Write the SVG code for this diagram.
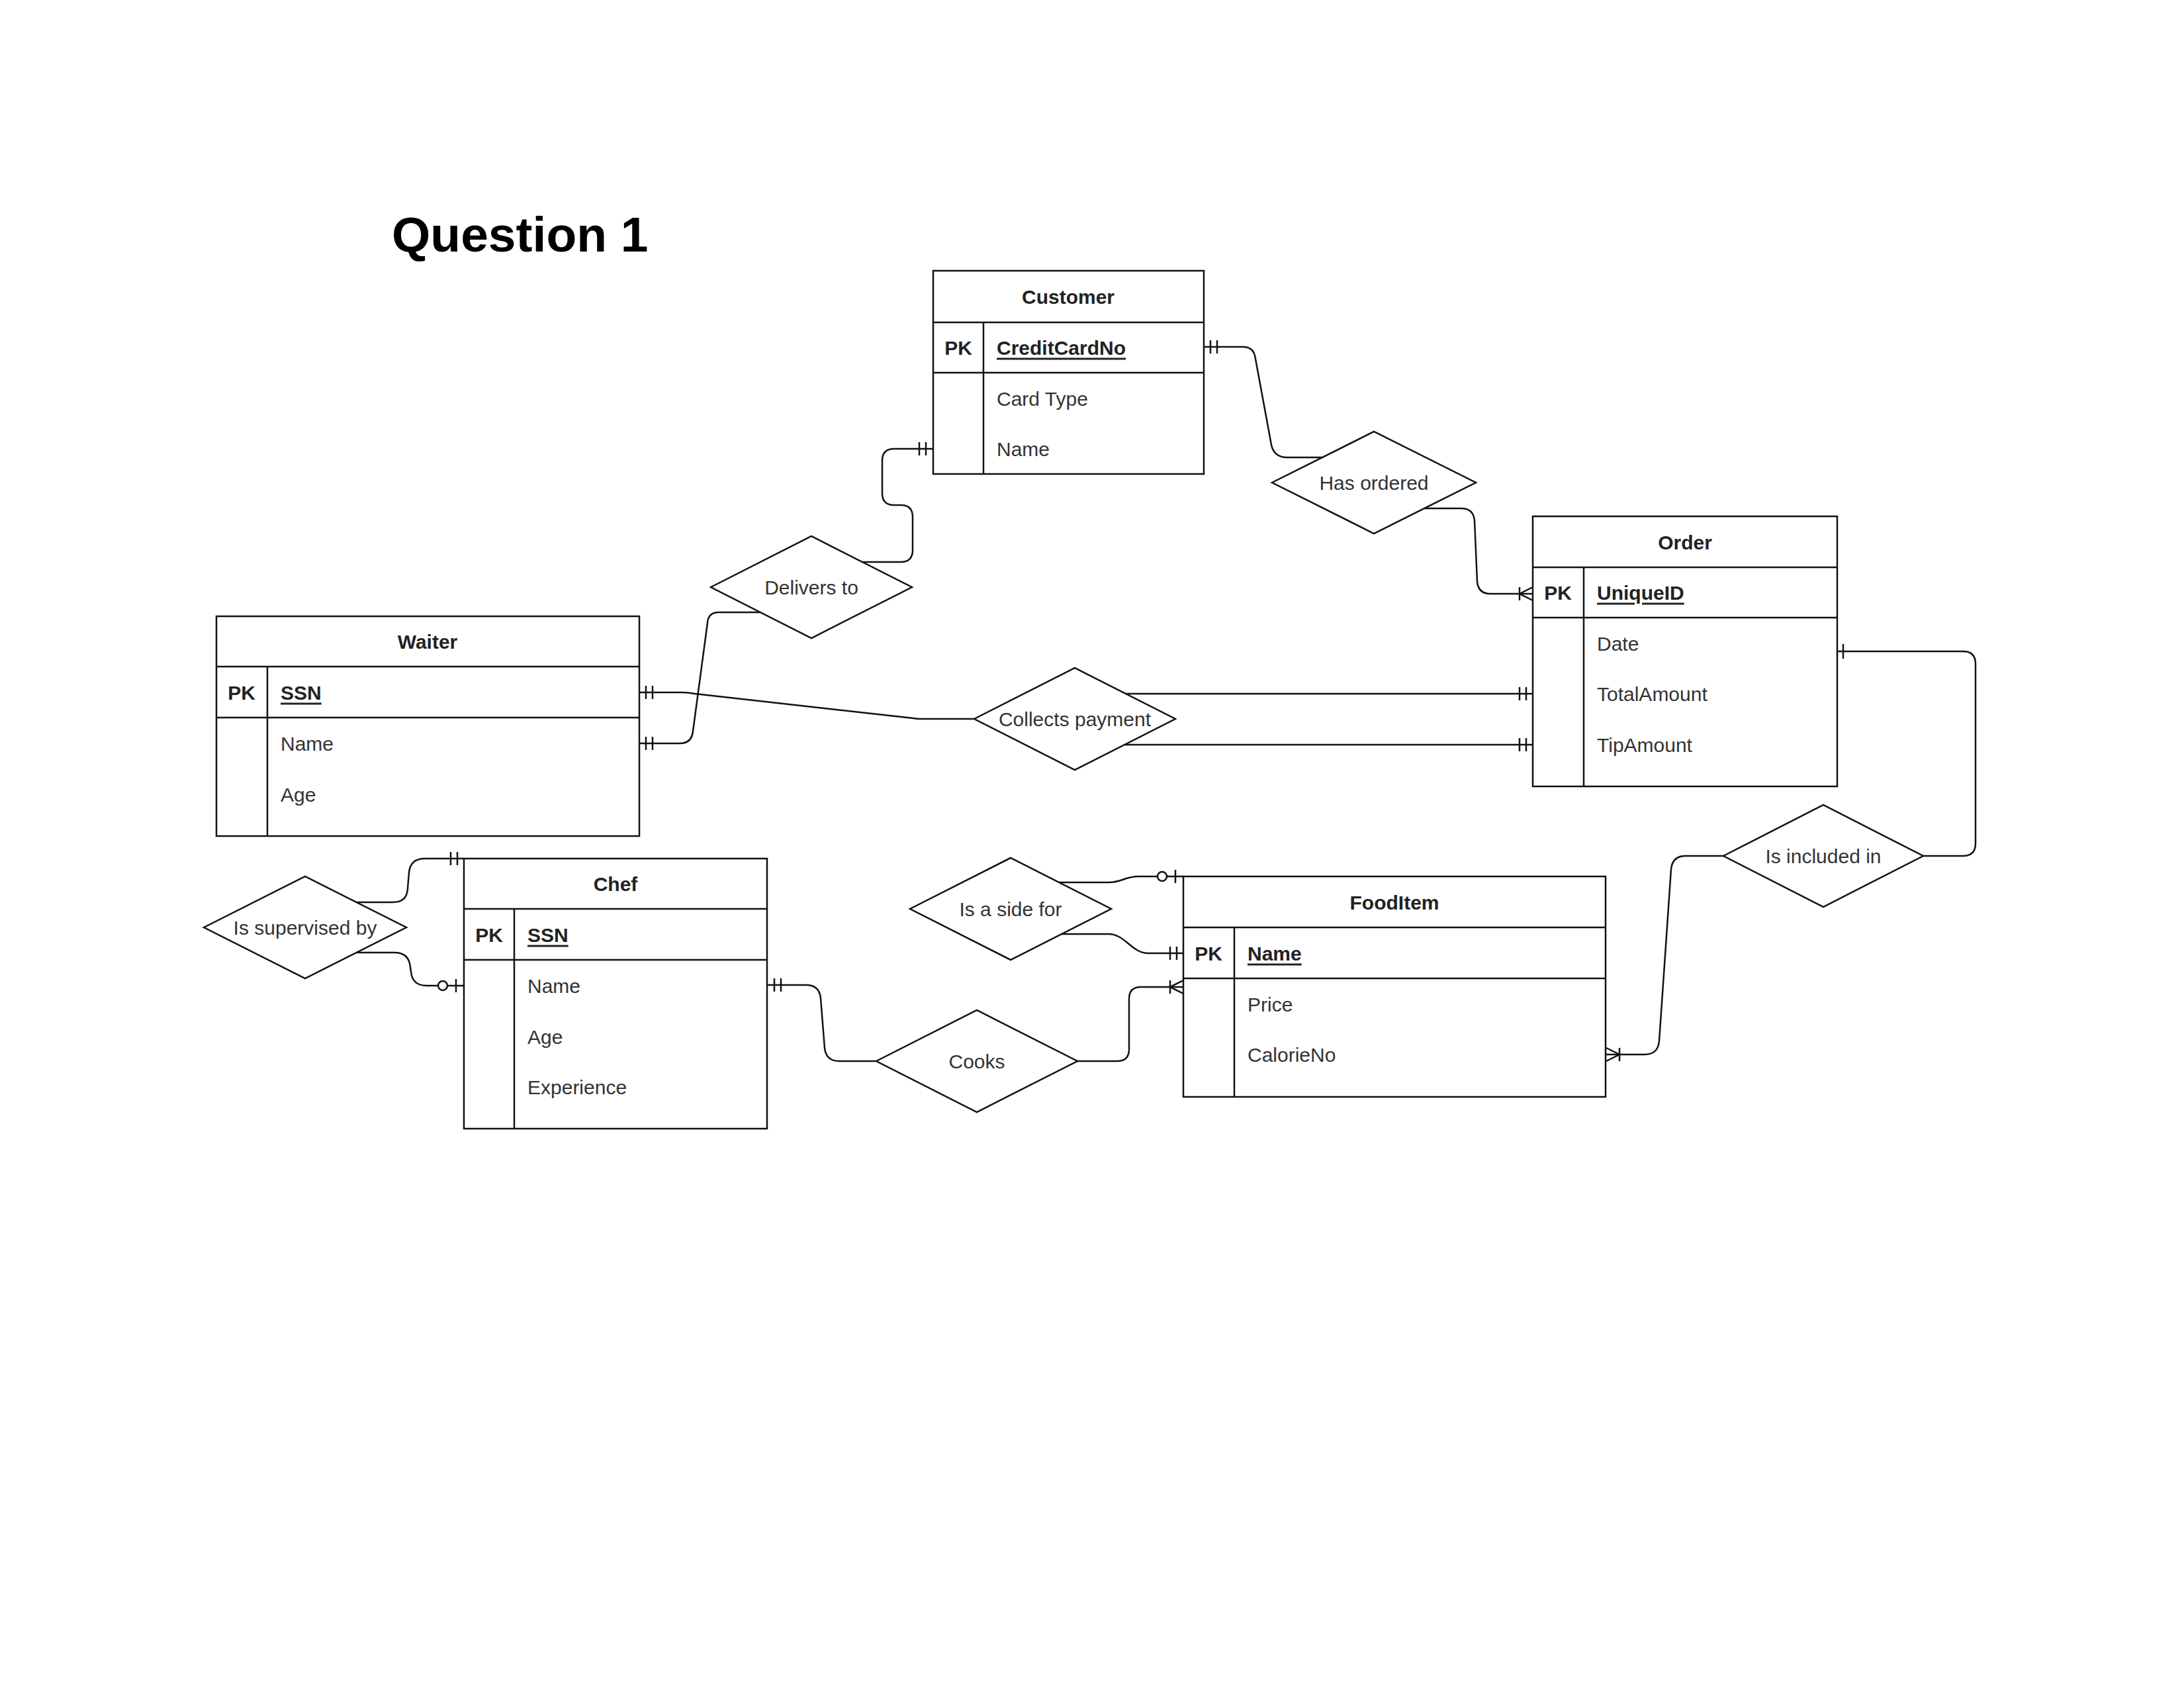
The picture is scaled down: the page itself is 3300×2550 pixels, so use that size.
<svg xmlns="http://www.w3.org/2000/svg" xmlns:xlink="http://www.w3.org/1999/xlink" width="3300" height="2550" viewBox="0 0 3300 2550">
<style>
.box{fill:#fff;stroke:#111;stroke-width:2.5}
.ln{fill:none;stroke:#111;stroke-width:2.5}
.cn{fill:none;stroke:#111;stroke-width:2.5;stroke-linejoin:round}
.mk{fill:none;stroke:#111;stroke-width:2.5}
.mkc{fill:#fff;stroke:#111;stroke-width:2.5}
.t{font-family:"Liberation Sans",Arial,sans-serif;font-size:30px;fill:#333;dominant-baseline:central}
.hd{font-weight:bold;fill:#222;text-anchor:middle}
.pk{font-weight:bold;fill:#222;text-anchor:middle}
.key{font-weight:bold;fill:#222;text-decoration:underline}
.rel{text-anchor:middle}
.title{font-family:"Liberation Sans",Arial,sans-serif;font-size:75px;font-weight:bold;fill:#000}
</style>
<defs>
<g id="mandOne" class="mk"><line x1="-10" y1="-10" x2="-10" y2="10"/><line x1="-20" y1="-10" x2="-20" y2="10"/></g>
<g id="one" class="mk"><line x1="-9" y1="-11" x2="-9" y2="11"/></g>
<g id="oneToMany" class="mk"><line x1="-20" y1="-10" x2="-20" y2="10"/><polyline points="0,-10 -20,0 0,10"/></g>
<g id="zeroToOne"><line class="mk" x1="-12" y1="-10" x2="-12" y2="10"/><line class="mk" x1="-25" y1="0" x2="0" y2="0"/><circle class="mkc" cx="-32" cy="0" r="7"/></g>
</defs>
<rect width="3300" height="2550" fill="#fff"/>
<text class="title" x="592" y="380">Question 1</text>

<g id="connectors">
<!-- Customer - Has ordered -->
<path class="cn" d="M1819,524 H1878 Q1895,524 1897,542 L1921,672 Q1925,691 1945,691 H1998"/>
<use href="#mandOne" transform="translate(1819,524) scale(-1,1)"/>
<!-- Has ordered - Order -->
<path class="cn" d="M2152,768 H2208 Q2226,768 2228,786 L2232,879 Q2234,897 2252,897 H2316"/>
<use href="#oneToMany" transform="translate(2316,897)"/>
<!-- Delivers to - Customer -->
<path class="cn" d="M1303,849 H1361 Q1379,849 1379,831 V781 Q1379,763 1361,763 H1351 Q1333,763 1333,745 V696 Q1333,678 1351,678 H1409"/>
<use href="#mandOne" transform="translate(1409,678)"/>
<!-- Delivers to - Waiter -->
<path class="cn" d="M1149,925 H1086 Q1070,925 1069,941 L1047,1105 Q1045,1123 1027,1123 H966"/>
<use href="#mandOne" transform="translate(966,1123) scale(-1,1)"/>
<!-- Waiter - Collects payment -->
<path class="cn" d="M966,1046 H1030 Q1040,1046 1050,1048 L1380,1085 Q1385,1086 1395,1086 H1472"/>
<use href="#mandOne" transform="translate(966,1046) scale(-1,1)"/>
<!-- Collects payment - Order -->
<path class="cn" d="M1701,1048 H2316"/>
<use href="#mandOne" transform="translate(2316,1048)"/>
<path class="cn" d="M1699,1125 H2316"/>
<use href="#mandOne" transform="translate(2316,1125)"/>
<!-- Order - Is included in -->
<path class="cn" d="M2776,984 H2966 Q2985,984 2985,1003 V1274 Q2985,1293 2966,1293 H2906"/>
<use href="#one" transform="translate(2776,984) scale(-1,1)"/>
<!-- Is included in - FoodItem -->
<path class="cn" d="M2604,1293 H2547 Q2527,1293 2525,1313 L2507,1573 Q2505,1593 2485,1593 H2427"/>
<use href="#oneToMany" transform="translate(2427,1593) scale(-1,1)"/>
<!-- Is a side for - FoodItem -->
<path class="cn" d="M1600,1333 H1675 C1695,1333 1700,1324 1720,1324 H1765"/>
<use href="#zeroToOne" transform="translate(1788,1324)"/>
<path class="cn" d="M1604,1411 H1675 C1700,1411 1710,1440 1735,1440 H1788"/>
<use href="#mandOne" transform="translate(1788,1440)"/>
<!-- Cooks - FoodItem -->
<path class="cn" d="M1627,1603 H1688 Q1706,1603 1706,1585 V1509 Q1706,1491 1724,1491 H1788"/>
<use href="#oneToMany" transform="translate(1788,1491)"/>
<!-- Chef - Cooks -->
<path class="cn" d="M1160,1488 H1218 Q1238,1488 1240,1508 L1246,1583 Q1248,1603 1268,1603 H1323"/>
<use href="#mandOne" transform="translate(1160,1488) scale(-1,1)"/>
<!-- Is supervised by - Chef -->
<path class="cn" d="M539,1363 H594 Q615,1363 616,1342 L618,1318 Q620,1297 642,1297 H701"/>
<use href="#mandOne" transform="translate(701,1297)"/>
<path class="cn" d="M539,1439 H596 Q618,1439 620,1461 L621,1468 Q623,1489 645,1489 H676"/>
<use href="#zeroToOne" transform="translate(701,1489)"/>
</g>

<g id="customer">
<rect class="box" x="1410" y="409" width="409" height="307"/>
<path class="ln" d="M1410,487 H1819 M1410,563 H1819 M1486,487 V716"/>
<text class="t hd" x="1614" y="448">Customer</text>
<text class="t pk" x="1448" y="525">PK</text>
<text class="t key" x="1506" y="525">CreditCardNo</text>
<text class="t" x="1506" y="602">Card Type</text>
<text class="t" x="1506" y="678">Name</text>
</g>

<g id="waiter">
<rect class="box" x="327" y="931" width="639" height="332"/>
<path class="ln" d="M327,1007 H966 M327,1084 H966 M404,1007 V1263"/>
<text class="t hd" x="646" y="969">Waiter</text>
<text class="t pk" x="365" y="1046">PK</text>
<text class="t key" x="424" y="1046">SSN</text>
<text class="t" x="424" y="1123">Name</text>
<text class="t" x="424" y="1200">Age</text>
</g>

<g id="order">
<rect class="box" x="2316" y="780" width="460" height="408"/>
<path class="ln" d="M2316,857 H2776 M2316,933 H2776 M2393,857 V1188"/>
<text class="t hd" x="2546" y="819">Order</text>
<text class="t pk" x="2354" y="895">PK</text>
<text class="t key" x="2413" y="895">UniqueID</text>
<text class="t" x="2413" y="972">Date</text>
<text class="t" x="2413" y="1048">TotalAmount</text>
<text class="t" x="2413" y="1125">TipAmount</text>
</g>

<g id="chef">
<rect class="box" x="701" y="1297" width="458" height="408"/>
<path class="ln" d="M701,1373 H1159 M701,1450 H1159 M777,1373 V1705"/>
<text class="t hd" x="930" y="1335">Chef</text>
<text class="t pk" x="739" y="1412">PK</text>
<text class="t key" x="797" y="1412">SSN</text>
<text class="t" x="797" y="1489">Name</text>
<text class="t" x="797" y="1566">Age</text>
<text class="t" x="797" y="1642">Experience</text>
</g>

<g id="fooditem">
<rect class="box" x="1788" y="1324" width="638" height="333"/>
<path class="ln" d="M1788,1401 H2426 M1788,1478 H2426 M1865,1401 V1657"/>
<text class="t hd" x="2107" y="1363">FoodItem</text>
<text class="t pk" x="1826" y="1440">PK</text>
<text class="t key" x="1885" y="1440">Name</text>
<text class="t" x="1885" y="1517">Price</text>
<text class="t" x="1885" y="1593">CalorieNo</text>
</g>

<g id="has-ordered">
<polygon class="box" points="1922,729 2076,652 2230,729 2076,806"/>
<text class="t rel" x="2076" y="729">Has ordered</text>
</g>
<g id="delivers-to">
<polygon class="box" points="1074,887 1226,810 1378,887 1226,964"/>
<text class="t rel" x="1226" y="887">Delivers to</text>
</g>
<g id="collects-payment">
<polygon class="box" points="1472,1086 1624,1009 1776,1086 1624,1163"/>
<text class="t rel" x="1624" y="1086">Collects payment</text>
</g>
<g id="is-included-in">
<polygon class="box" points="2604,1293 2755,1216 2906,1293 2755,1370"/>
<text class="t rel" x="2755" y="1293">Is included in</text>
</g>
<g id="is-a-side-for">
<polygon class="box" points="1375,1373 1527,1296 1679,1373 1527,1450"/>
<text class="t rel" x="1527" y="1373">Is a side for</text>
</g>
<g id="cooks">
<polygon class="box" points="1324,1603 1476,1526 1628,1603 1476,1680"/>
<text class="t rel" x="1476" y="1603">Cooks</text>
</g>
<g id="is-supervised-by">
<polygon class="box" points="308,1401 461,1324 614,1401 461,1478"/>
<text class="t rel" x="461" y="1401">Is supervised by</text>
</g>
</svg>
